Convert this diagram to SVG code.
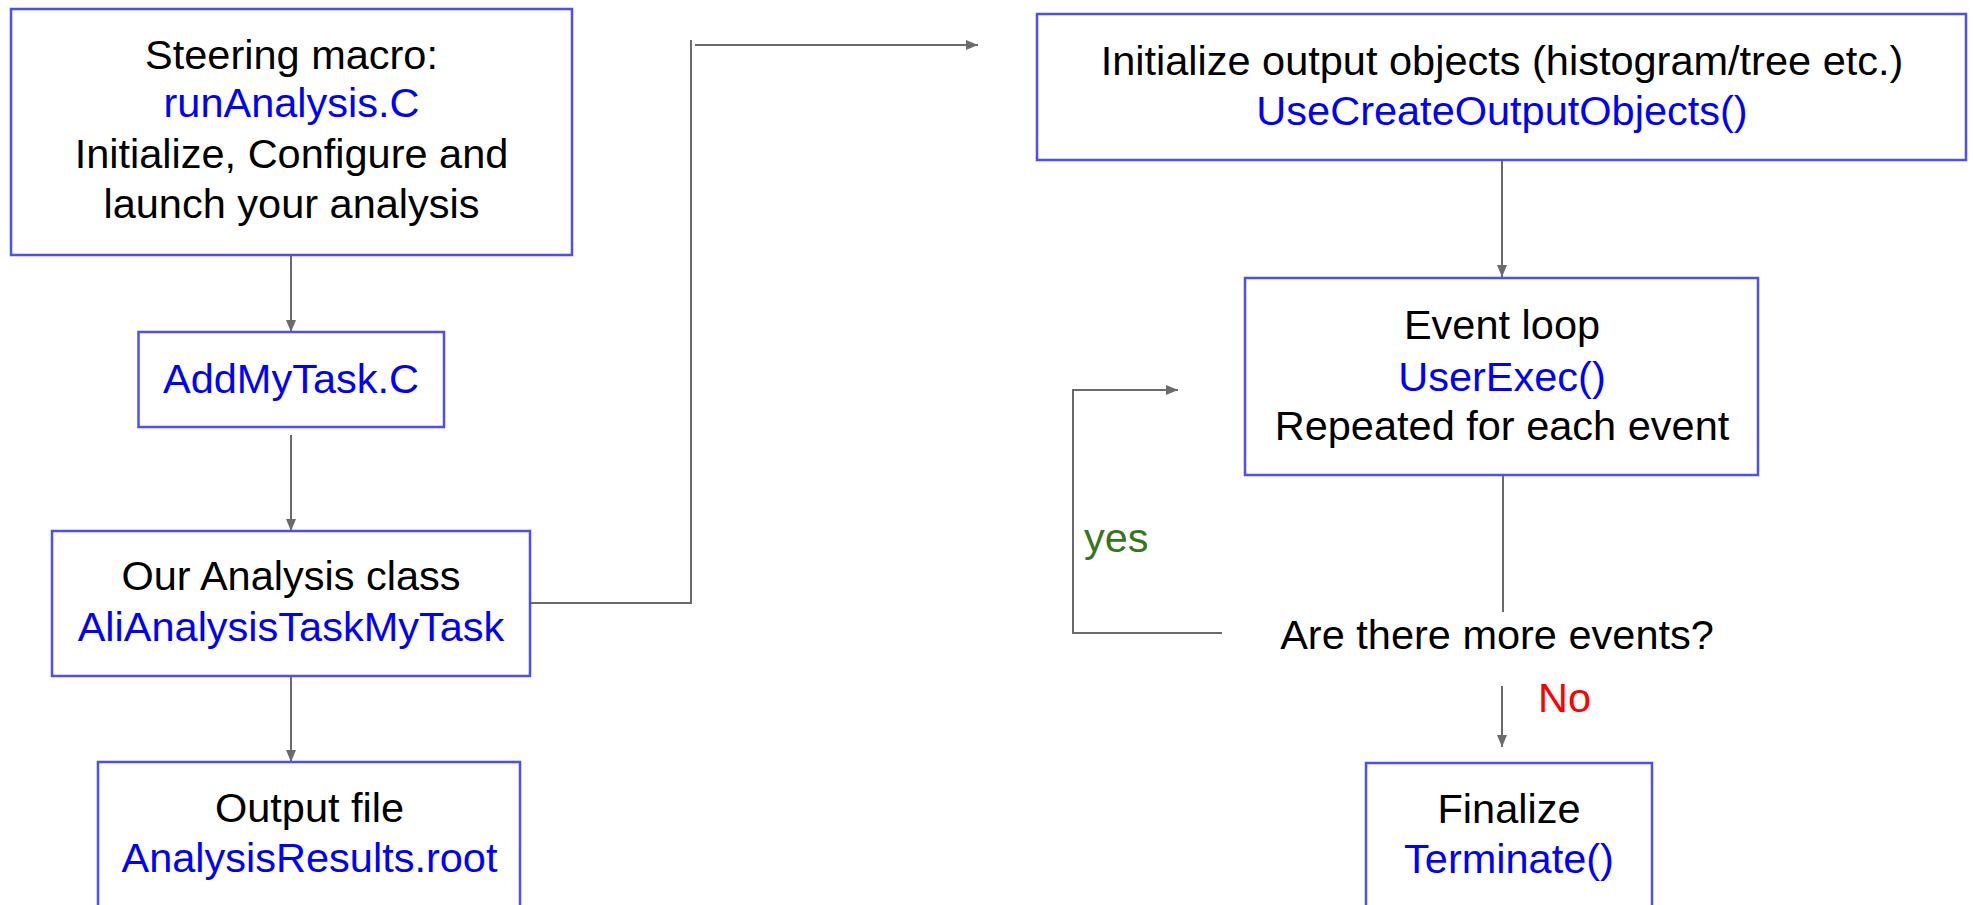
<svg xmlns="http://www.w3.org/2000/svg" width="1973" height="905" viewBox="0 0 1973 905">
<style>
  .box { fill: #ffffff; stroke: #4d4dff; stroke-width: 2.5; }
  .t { font-family: "Liberation Sans", Arial, sans-serif; font-size: 41.5px; text-anchor: middle; fill: #000000; }
  .b { fill: #0000ff; }
  .conn { fill: none; stroke: #6b6b6b; stroke-width: 2; }
</style>
<defs>
  <marker id="arr" markerUnits="userSpaceOnUse" markerWidth="12" markerHeight="10" refX="12" refY="5" orient="auto">
    <path d="M0,0 L12,5 L0,10 z" fill="#6b6b6b"/>
  </marker>
</defs>
<rect width="1973" height="905" fill="#ffffff"/>
<g id="connectors">
  <path class="conn" d="M291,255 V332" marker-end="url(#arr)"/>
  <path class="conn" d="M291,435 V531" marker-end="url(#arr)"/>
  <path class="conn" d="M291,670 V762" marker-end="url(#arr)"/>
  <path class="conn" d="M530,603 H691 V40"/>
  <path class="conn" d="M695,45 H978" marker-end="url(#arr)"/>
  <path class="conn" d="M1502,160 V277" marker-end="url(#arr)"/>
  <path class="conn" d="M1503,475 V612"/>
  <path class="conn" d="M1222,633 H1073 V390 H1178" marker-end="url(#arr)"/>
  <path class="conn" d="M1502,686 V747" marker-end="url(#arr)"/>
</g>
<g id="steering">
  <rect class="box" x="11" y="9" width="561" height="246"/>
  <text class="t" x="291.5" y="69">Steering macro:</text>
  <text class="t b" x="291.5" y="117">runAnalysis.C</text>
  <text class="t" x="291.5" y="168">Initialize, Configure and</text>
  <text class="t" x="291.5" y="218">launch your analysis</text>
</g>
<g id="addmytask">
  <rect class="box" x="138.5" y="332" width="305.5" height="95"/>
  <text class="t b" x="291" y="393">AddMyTask.C</text>
</g>
<g id="analysisclass">
  <rect class="box" x="52" y="531" width="478" height="145"/>
  <text class="t" x="291" y="590">Our Analysis class</text>
  <text class="t b" x="291" y="641">AliAnalysisTaskMyTask</text>
</g>
<g id="outputfile">
  <rect class="box" x="98" y="762" width="422" height="150"/>
  <text class="t" x="309.5" y="822">Output file</text>
  <text class="t b" x="309.5" y="872">AnalysisResults.root</text>
</g>
<g id="initoutput">
  <rect class="box" x="1037" y="14" width="929" height="146"/>
  <text class="t" x="1502" y="75">Initialize output objects (histogram/tree etc.)</text>
  <text class="t b" x="1502" y="125">UseCreateOutputObjects()</text>
</g>
<g id="eventloop">
  <rect class="box" x="1245" y="278" width="513" height="197"/>
  <text class="t" x="1502" y="339">Event loop</text>
  <text class="t b" x="1502" y="391">UserExec()</text>
  <text class="t" x="1502" y="440">Repeated for each event</text>
</g>
<g id="decision">
  <text class="t" x="1497" y="649">Are there more events?</text>
</g>
<g id="labels">
  <text class="t" x="1084" y="552" style="text-anchor:start;fill:#38761d">yes</text>
  <text class="t" x="1538" y="712" style="text-anchor:start;fill:#ff0000">No</text>
</g>
<g id="finalize">
  <rect class="box" x="1366" y="763" width="286" height="150"/>
  <text class="t" x="1509" y="823">Finalize</text>
  <text class="t b" x="1509" y="873">Terminate()</text>
</g>
</svg>
